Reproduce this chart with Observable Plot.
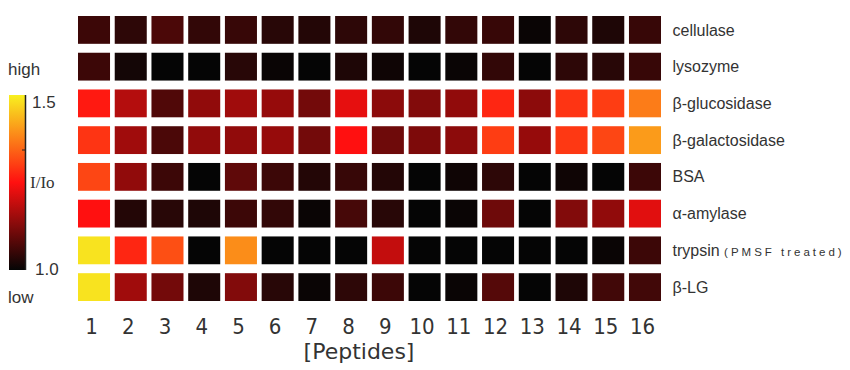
<!DOCTYPE html>
<html><head><meta charset="utf-8">
<script src="https://cdn.jsdelivr.net/npm/d3@7"></script>
<script src="https://cdn.jsdelivr.net/npm/@observablehq/plot@0.6"></script>
<style>
body{margin:0;background:#fff}
#wrap{position:relative;width:850px;height:370px;overflow:hidden}
#wrap svg{position:absolute;left:0;top:0}
</style>
</head><body><div id="wrap"></div>
<script>
const peptides = [1,2,3,4,5,6,7,8,9,10,11,12,13,14,15,16];
const proteins = ["cellulase","lysozyme","β-glucosidase","β-galactosidase","BSA","α-amylase","trypsin (PMSF treated)","β-LG"];
// I/Io values (1.0 – 1.5)
const cellulase      = [1.055,1.04,1.07,1.045,1.05,1.035,1.03,1.04,1.045,1.025,1.045,1.05,1.005,1.04,1.025,1.05];
const lysozyme       = [1.055,1.015,1.0,1.0,1.035,1.005,1.0,1.025,1.01,1.0,1.005,1.045,1.0,1.04,1.035,1.05];
const bGlucosidase   = [1.26,1.175,1.075,1.14,1.155,1.145,1.11,1.225,1.135,1.125,1.14,1.275,1.135,1.29,1.30,1.37];
const bGalactosidase = [1.29,1.155,1.07,1.14,1.14,1.145,1.11,1.25,1.105,1.12,1.135,1.30,1.145,1.295,1.31,1.405];
const bsa            = [1.31,1.14,1.055,1.0,1.09,1.055,1.03,1.05,1.03,1.0,1.01,1.04,1.0,1.01,1.0,1.055];
const aAmylase       = [1.25,1.03,1.035,1.025,1.055,1.045,1.005,1.065,1.035,1.0,1.005,1.105,1.0,1.125,1.14,1.22];
const trypsin        = [1.485,1.275,1.32,1.0,1.39,1.0,1.0,1.0,1.19,1.0,1.0,1.0,1.0,1.0,1.005,1.055];
const bLG            = [1.485,1.155,1.11,1.025,1.125,1.035,1.005,1.04,1.055,1.0,1.005,1.08,1.0,1.025,1.06,1.06];
const rows = [cellulase,lysozyme,bGlucosidase,bGalactosidase,bsa,aAmylase,trypsin,bLG];
const legendTicks = ["1.5","1.0"];

const data = [];
rows.forEach((vals,i)=>vals.forEach((v,j)=>data.push({protein:proteins[i],peptide:peptides[j],value:v})));

const chart = Plot.plot({
  width: 850, height: 370,
  marginLeft: 78, marginRight: 189, marginTop: 16, marginBottom: 69,
  style: {fontFamily: "'Liberation Sans', Arial, sans-serif", color: "#333", background: "transparent"},
  x: {domain: peptides, paddingInner: 0.128, paddingOuter: 0, round: false, axis: null},
  y: {domain: proteins, paddingInner: 0.243, paddingOuter: 0, round: false, axis: null},
  color: {type: "linear", domain: [1.0, 1.25, 1.5], range: ["#050505", "#ff1010", "#f8f020"], clamp: true},
  marks: [
    Plot.cell(data, {x: "peptide", y: "protein", fill: "value"}),
    Plot.axisX({anchor: "bottom", tickSize: 0, tickPadding: 17, dx: -3, fontSize: 22,
      fontFamily: "'Liberation Sans Narrow', 'DejaVu Sans Condensed', sans-serif", fill: "#333", label: null}),
    Plot.axisY({anchor: "right", tickSize: 0, tickPadding: 11, fontSize: 16, fill: "#333", label: null,
      style: {letterSpacing: "0.5px"}}),
    Plot.text(["[Peptides]"], {frameAnchor: "bottom", dy: 57, dx: -11, fontSize: 22,
      fontFamily: "'DejaVu Sans', sans-serif", fill: "#333"})
  ]
});
document.getElementById("wrap").appendChild(chart);

// smaller parenthetical on trypsin label
d3.select(chart).selectAll("text").filter(function(){return this.textContent === "trypsin (PMSF treated)";})
  .each(function(){
    const t = d3.select(this);
    t.text("trypsin ");
    t.append("tspan").attr("font-size", 11.5).attr("letter-spacing", "3px").text("(PMSF treated)");
  });

// vertical colour legend built from the chart's colour scale
const color = chart.scale("color");
const lsvg = d3.select("#wrap").append("svg").attr("width", 78).attr("height", 370)
  .style("font-family", "'Liberation Sans', Arial, sans-serif");
const grad = lsvg.append("defs").append("linearGradient").attr("id", "lg")
  .attr("x1", 0).attr("y1", 1).attr("x2", 0).attr("y2", 0);
const cs = d3.scaleLinear().domain(color.domain).range(color.range);
for (let k = 0; k <= 20; k++) {
  const v = 1.0 + 0.5 * k / 20;
  grad.append("stop").attr("offset", k / 20).attr("stop-color", cs(v));
}
lsvg.append("rect").attr("x", 9).attr("y", 95).attr("width", 16).attr("height", 175).attr("fill", "url(#lg)");
lsvg.append("line").attr("x1", 25.5).attr("x2", 25.5).attr("y1", 95).attr("y2", 270).attr("stroke", "#222").attr("stroke-width", 1.5);
lsvg.append("line").attr("x1", 22).attr("x2", 26).attr("y1", 150).attr("y2", 150).attr("stroke", "#222");
lsvg.append("text").attr("x", 8).attr("y", 69).attr("dy", "0.35em").attr("font-size", 17).attr("fill", "#333").text("high");
lsvg.append("text").attr("x", 32).attr("y", 102).attr("dy", "0.35em").attr("font-size", 17).attr("fill", "#333").text(legendTicks[0]);
lsvg.append("text").attr("x", 30).attr("y", 182).attr("dy", "0.35em").attr("font-size", 17).attr("fill", "#333")
  .attr("font-family", "'Liberation Serif', serif").text("I/Io");
lsvg.append("text").attr("x", 35).attr("y", 269).attr("dy", "0.35em").attr("font-size", 17).attr("fill", "#333").text(legendTicks[1]);
lsvg.append("text").attr("x", 8).attr("y", 297).attr("dy", "0.35em").attr("font-size", 17).attr("fill", "#333").text("low");
</script>
</body></html>
